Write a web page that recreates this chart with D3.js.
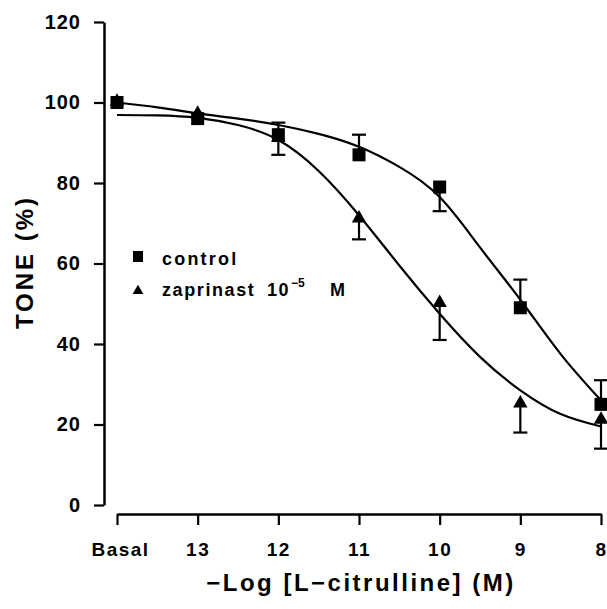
<!DOCTYPE html>
<html>
<head>
<meta charset="utf-8">
<script src="https://cdn.jsdelivr.net/npm/d3@7"></script>
<style>
  html, body { margin: 0; padding: 0; background: #fff; }
  svg { display: block; font-family: "Liberation Sans", Arial, Helvetica, sans-serif; }
</style>
</head>
<body>
<svg id="chart" width="607" height="609"></svg>
<script>
// ---- data ----
const xTicks = [14, 13, 12, 11, 10, 9, 8];           // 14 = Basal position
const xTickLabels = ["Basal", "13", "12", "11", "10", "9", "8"];
const yTicks = [0, 20, 40, 60, 80, 100, 120];

const controlX   = [14, 13, 12, 11, 10, 9, 8];
const controlY   = [100, 96, 92, 87, 79, 49, 25];
const controlErr = [0, 0, 3, 5, 6, 7, 6];
const controlDir = [1, 1, 1, 1, -1, 1, 1];   // +1 bar drawn upward, -1 downward

const zapX   = [14, 13, 12, 11, 10, 9, 8];
const zapY   = [100, 97, 91, 71, 50, 25, 21];
const zapErr = [0, 0, 4, 5, 9, 7, 7];
const zapDir = [-1, -1, -1, -1, -1, -1, -1];

// fitted curves
const curveX        = [14, 13.5, 13, 12.5, 12, 11.5, 11, 10.5, 10, 9.5, 9, 8.5, 8];
const controlCurveY = [100, 98.8, 97.3, 96, 94.4, 92.2, 89, 84, 76.5, 64, 51, 37.5, 26];
const zapCurveY     = [96.9, 96.8, 96.2, 94.4, 90.7, 83, 72, 59.5, 47.5, 36.8, 28.5, 22.6, 19.5];

// ---- layout ----
const svg = d3.select("#chart");
const x = d3.scaleLinear().domain([14, 8]).range([117, 601]);
const y = d3.scaleLinear().domain([0, 120]).range([505, 22]);

// y axis
const yAxis = svg.append("g")
  .attr("transform", "translate(104,0)")
  .call(d3.axisLeft(y).tickValues(yTicks).tickSize(10).tickSizeOuter(0).tickPadding(13));
yAxis.select(".domain").attr("stroke-width", 2.5);
yAxis.selectAll(".tick line").attr("stroke-width", 2.2);
yAxis.selectAll(".tick text")
  .attr("font-size", 20).attr("font-weight", "bold").attr("letter-spacing", 1)
  .attr("fill", "#000").attr("font-family", "Liberation Sans, Arial, sans-serif");

// x axis
const xAxis = svg.append("g")
  .attr("transform", "translate(0,514)")
  .call(d3.axisBottom(x).tickValues(xTicks).tickSize(11).tickSizeOuter(0).tickPadding(18)
        .tickFormat((d, i) => xTickLabels[i]));
xAxis.select(".domain").attr("stroke-width", 2.5);
xAxis.selectAll(".tick line").attr("stroke-width", 2.2);
xAxis.selectAll(".tick text")
  .attr("font-size", 19).attr("font-weight", "bold").attr("letter-spacing", 1.5)
  .attr("fill", "#000").attr("font-family", "Liberation Sans, Arial, sans-serif");
xAxis.selectAll(".tick text").filter((d, i) => i === 0).attr("dx", 3);

// axis titles
svg.append("text")
  .attr("transform", "translate(33,262) rotate(-90)")
  .attr("text-anchor", "middle")
  .attr("font-size", 24).attr("font-weight", "bold").attr("letter-spacing", 3)
  .text("TONE (%)");

svg.append("text")
  .attr("x", 361).attr("y", 591)
  .attr("text-anchor", "middle")
  .attr("font-size", 24).attr("font-weight", "bold").attr("letter-spacing", 2.5)
  .text("\u2212Log [L\u2212citrulline] (M)");

// curves
const line = d3.line().x(d => x(d[0])).y(d => y(d[1])).curve(d3.curveNatural);
svg.append("path")
  .datum(curveX.map((v, i) => [v, controlCurveY[i]]))
  .attr("d", line).attr("fill", "none").attr("stroke", "#000").attr("stroke-width", 2.2);
svg.append("path")
  .datum(curveX.map((v, i) => [v, zapCurveY[i]]))
  .attr("d", line).attr("fill", "none").attr("stroke", "#000").attr("stroke-width", 2.2);

// error bars
function errorBars(xs, ys, es, dirs) {
  const g = svg.append("g").attr("stroke", "#000").attr("stroke-width", 2.2);
  xs.forEach((xv, i) => {
    if (!es[i]) return;
    const y0 = y(ys[i]), y1 = y(ys[i] + dirs[i] * es[i]);
    g.append("line").attr("x1", x(xv)).attr("x2", x(xv)).attr("y1", y0).attr("y2", y1);
    g.append("line").attr("x1", x(xv) - 7).attr("x2", x(xv) + 7).attr("y1", y1).attr("y2", y1);
  });
}
errorBars(zapX, zapY, zapErr, zapDir);
errorBars(controlX, controlY, controlErr, controlDir);

// markers
const tri = d3.symbol().type(d3.symbolTriangle).size(90);
svg.append("g").selectAll("path")
  .data(zapX.map((v, i) => [v, zapY[i]]))
  .join("path")
  .attr("d", tri)
  .attr("transform", d => `translate(${x(d[0])},${y(d[1]) - 1})`)
  .attr("fill", "#000");

svg.append("g").selectAll("rect")
  .data(controlX.map((v, i) => [v, controlY[i]]))
  .join("rect")
  .attr("x", d => x(d[0]) - 6.5).attr("y", d => y(d[1]) - 6.5)
  .attr("width", 13).attr("height", 13)
  .attr("fill", "#000");

// legend
const leg = svg.append("g");
leg.append("rect").attr("x", 133).attr("y", 251).attr("width", 10).attr("height", 11).attr("fill", "#000");
leg.append("path").attr("d", d3.symbol().type(d3.symbolTriangle).size(50))
  .attr("transform", "translate(138,291)").attr("fill", "#000");
leg.append("text").attr("x", 162).attr("y", 265)
  .attr("font-size", 18).attr("font-weight", "bold").attr("letter-spacing", 2.2)
  .text("control");
leg.append("text").attr("x", 162).attr("y", 296)
  .attr("font-size", 18).attr("font-weight", "bold").attr("letter-spacing", 1.6)
  .text("zaprinast");
leg.append("text").attr("x", 267).attr("y", 296)
  .attr("font-size", 18).attr("font-weight", "bold").attr("letter-spacing", 1.5)
  .text("10");
leg.append("text").attr("x", 291).attr("y", 287)
  .attr("font-size", 12).attr("font-weight", "bold")
  .text("\u22125");
leg.append("text").attr("x", 330).attr("y", 296)
  .attr("font-size", 18).attr("font-weight", "bold")
  .text("M");
</script>
</body>
</html>
